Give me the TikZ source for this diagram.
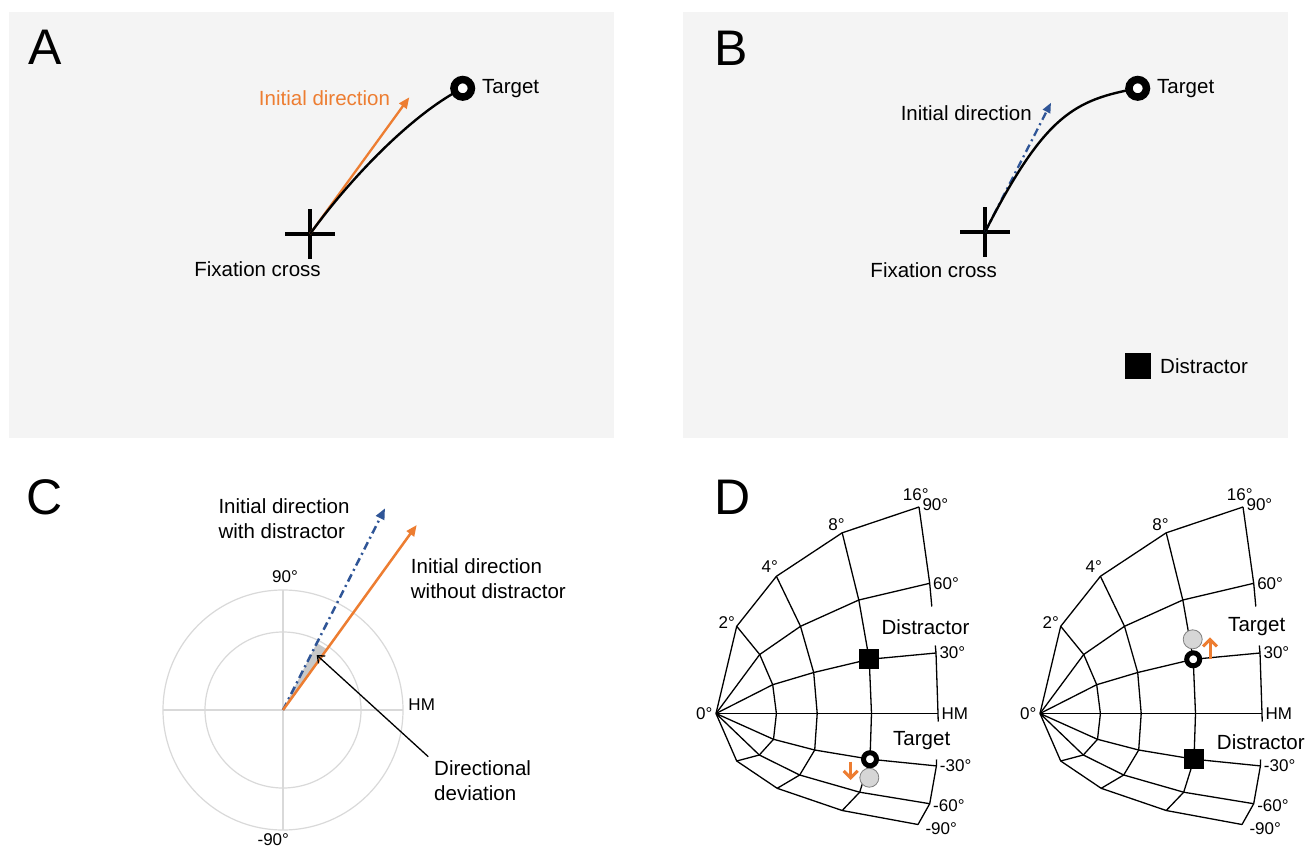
\documentclass[tikz,border=0pt]{standalone}
\usepackage{fontspec}
\setmainfont{Liberation Sans}
\usetikzlibrary{arrows.meta,shapes.misc}
\definecolor{bggray}{HTML}{F4F4F4}
\definecolor{dirorange}{HTML}{ED7D31}
\definecolor{dirblue}{HTML}{2F5597}
\definecolor{ringgray}{HTML}{D9D9D9}
\definecolor{dotgray}{HTML}{D6D6D6}
\definecolor{wedgegray}{HTML}{C8C8C8}

\begin{document}
\begin{tikzpicture}[x=1pt,y=-1pt,
  >={Triangle[length=11pt,width=9pt]},
  lab/.style={font=\fontsize{20.5}{25}\selectfont,inner sep=0pt,align=left},
  deglab/.style={font=\fontsize{17}{20}\selectfont},
  plet/.style={font=\fontsize{50}{50}\selectfont,inner sep=0pt},
  fixcross/.style={draw,cross out,rotate=45,minimum size=31pt,inner sep=0pt,line width=4pt},
  tgt/.style={circle,draw,fill=white,line width=7.5pt,minimum size=17.5pt,inner sep=0pt},
  tgtsm/.style={circle,draw,fill=white,line width=5pt,minimum size=13pt,inner sep=0pt},
  dsq/.style={fill=black,minimum size=#1,inner sep=0pt},
  dsq/.default=20pt,
  olddot/.style={circle,draw=gray,fill=dotgray,line width=0.8pt,minimum size=19pt,inner sep=0pt},
  traj/.style={line width=2.4pt},
  initdir/.style={dirorange,line width=2.3pt},
  dashdir/.style={dirblue,line width=2.3pt,dash pattern=on 8pt off 4pt on 2pt off 4pt},
  scline/.style={line width=1.3pt},
  ringline/.style={ringgray,line width=1.2pt},
  shiftarr/.style={dirorange,line width=3pt,-{Straight Barb[length=7pt,width=14pt]}}]
\useasboundingbox (0,0) rectangle (1308,848);
\fill[white] (0,0) rectangle (1308,848);

% A: saccade without distractor
\fill[bggray] (9,12) rectangle (614,438);
\node[plet] (letA) at (45,47) {A};
\node[fixcross] (fixA) at (310,234) {};
\node[lab] (fixlabA) at (257.5,269.5) {Fixation cross};
\coordinate (tipA) at (409.3,97.3);
\draw[initdir,->] (fixA.center) -- (tipA);
\node[lab,dirorange] (dirlabA) at (324.5,98.5) {Initial direction};
\coordinate (tA) at (462.7,88.3);
\draw[traj] (fixA.center) .. controls (357,169.3) and (418,110.7) .. (tA);
\node[tgt] (tgtA) at (tA) {};
\node[lab,anchor=west] (tgtlabA) at (482,88.5) {Target};

% B: saccade with distractor
\fill[bggray] (683,12) rectangle (1288,438);
\node[plet] (letB) at (731,48) {B};
\node[fixcross] (fixB) at (985,232) {};
\node[lab] (fixlabB) at (933.7,270) {Fixation cross};
\coordinate (tipB) at (1051,102.7);
\draw[dashdir,-{Triangle[length=10pt,width=8pt]}] (fixB.center) -- (tipB);
\node[lab] (dirlabB) at (966.3,113.3) {Initial direction};
\coordinate (tB) at (1137.7,88.3);
\draw[traj] (fixB.center) .. controls (1045,114) and (1075,100) .. (tB);
\node[tgt] (tgtB) at (tB) {};
\node[lab,anchor=west] (tgtlabB) at (1157,88.5) {Target};
\node[dsq=26pt] (distB) at (1138,366.3) {};
\node[lab,anchor=west] (distlabB) at (1160,366.5) {Distractor};

% C: directional deviation
\node[plet] (letC) at (45,497) {C};
\coordinate (cC) at (283,710);
\draw[ringline] (cC) circle[radius=120pt] (cC) circle[radius=78pt];
\draw[ringline] (cC) ++(-120,0) -- ++(240,0) (cC) ++(0,-120) -- ++(0,240);
\node[deglab] (c90) at (285,577) {90°};
\node[deglab] (cm90) at (273.3,840) {-90°};
\node[deglab] (cHM) at (421.7,705) {HM};
\coordinate (wO) at (327,649.3);
\coordinate (wB) at (316.8,643.1);
\fill[wedgegray] (cC) -- (wO) -- (wB) -- cycle;
\coordinate (tipCb) at (385,508.3);
\coordinate (tipCo) at (416.7,525);
\draw[dashdir,line width=2.5pt,->] (cC) -- (tipCb);
\draw[initdir,line width=2.5pt,->] (cC) -- (tipCo);
\node[lab,anchor=west] (labCb) at (218.3,518.5) {Initial direction\\with distractor};
\node[lab,anchor=west] (labCo) at (410.7,578.5) {Initial direction\\without distractor};
\node[lab,anchor=west] (labDev) at (434,780.3) {Directional\\deviation};
\coordinate (devTail) at (428.3,756.7);
\coordinate (devTip) at (316.7,655);
\draw[line width=1.3pt,-{Straight Barb[length=6pt,width=10pt]}] (devTail) -- (devTip);

% D: collicular maps
\node[plet] (letD) at (733,497) {D};
\foreach \sx/\p in {716/L,1040/R}{
  \begin{scope}[shift={(\sx,713.5)}]
    \coordinate (\p-0) at (0,0);
    \foreach \a/\ax/\ay/\bx/\by/\cx/\cy/\dx/\dy in {
      90/20.7/-87.2/60.4/-137.2/126.2/-180.7/203/-206.5,
      60/43.7/-59/84.5/-87.2/142.8/-113.5/213.7/-130.2,
      30/56.7/-28.8/97.7/-41/153.2/-54.2/220/-60.5,
      0/60.4/0/101.2/0/155.5/0/222/0,
      m30/57.5/25.8/98.7/36.5/154/45.7/220.4/52.4,
      m60/43.3/41.5/83.7/61.5/143.7/78.7/213.7/90.2,
      m90/20.7/47.5/61.2/74.8/126.2/97/202/111}{
      \coordinate (\p-2-\a) at (\ax,\ay);
      \coordinate (\p-4-\a) at (\bx,\by);
      \coordinate (\p-8-\a) at (\cx,\cy);
      \coordinate (\p-16-\a) at (\dx,\dy);
      \draw[scline] (\p-0) -- (\p-2-\a) -- (\p-4-\a) -- (\p-8-\a) -- (\p-16-\a);
    }
    \foreach \e in {2,4,8}
      \draw[scline] (\p-\e-90) -- (\p-\e-60) -- (\p-\e-30) -- (\p-\e-0)
        -- (\p-\e-m30) -- (\p-\e-m60) -- (\p-\e-m90);
    % 16 deg line, open where the labels sit
    \draw[scline] (\p-16-90) -- (\p-16-60) -- (215.8,-107);
    \draw[scline] (219.3,-68) -- (\p-16-30) -- (\p-16-0) -- (222.2,8);
    \draw[scline] (220.6,46) -- (\p-16-m30) -- (\p-16-m60) -- (\p-16-m90);
    \node[deglab,anchor=east] at (\p-0) {0°};
    \node[deglab,xshift=-10pt,yshift=4pt] at (\p-2-90) {2°};
    \node[deglab,xshift=-6.7pt,yshift=10pt] at (\p-4-90) {4°};
    \node[deglab,xshift=-5.7pt,yshift=8.6pt] at (\p-8-90) {8°};
    \node[deglab,xshift=-3.3pt,yshift=12.7pt] at (\p-16-90) {16°};
    \node[deglab,anchor=west,yshift=2pt] at (\p-16-90) {90°};
    \node[deglab,anchor=west] at (\p-16-60) {60°};
    \node[deglab,anchor=west] at (\p-16-30) {30°};
    \node[deglab,anchor=west] at (\p-16-0) {HM};
    \node[deglab,anchor=west] at (\p-16-m30) {-30°};
    \node[deglab,anchor=west,yshift=-2pt] at (\p-16-m60) {-60°};
    \node[deglab,anchor=west,xshift=4pt,yshift=-4pt] at (\p-16-m90) {-90°};
  \end{scope}
}
% left map: distractor above, target below
\node[lab] (distlabL) at (925.5,626.7) {Distractor};
\node[lab] (tgtlabL) at (921.7,740.7) {Target};
\node[dsq] (distL) at (L-8-30) {};
\node[olddot] (oldL) at (869.3,777.7) {};
\node[tgtsm] (tgtL) at (L-8-m30) {};
\coordinate (shL0) at (850.7,761.7);
\coordinate (shL1) at (850.7,780);
\draw[shiftarr] (shL0) -- (shL1);
% right map: target above, distractor below
\node[lab] (tgtlabR) at (1256.7,626.7) {Target};
\node[lab] (distlabR) at (1260.8,742.3) {Distractor};
\node[olddot] (oldR) at (1192.7,639.3) {};
\node[tgtsm] (tgtR) at (R-8-30) {};
\coordinate (shR0) at (1210,659.3);
\coordinate (shR1) at (1210,637.3);
\draw[shiftarr] (shR0) -- (shR1);
\node[dsq] (distR) at (R-8-m30) {};
\end{tikzpicture}
\end{document}
